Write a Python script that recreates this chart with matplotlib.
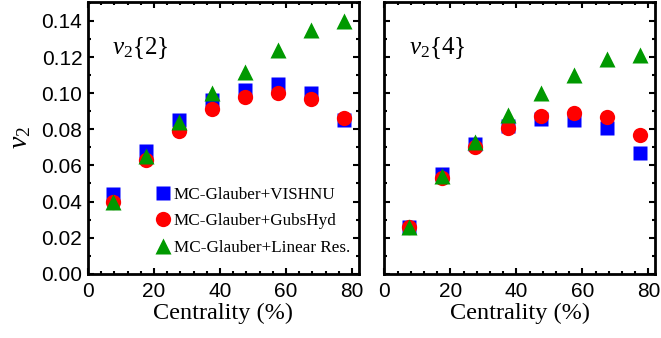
import matplotlib
matplotlib.use("Agg")
import matplotlib.pyplot as plt
from matplotlib.ticker import MultipleLocator

plt.rcParams['font.family'] = 'sans-serif'
plt.rcParams['font.sans-serif'] = ['Liberation Sans']
plt.rcParams['mathtext.fontset'] = 'custom'
plt.rcParams['mathtext.rm'] = 'Liberation Serif'
plt.rcParams['mathtext.it'] = 'Liberation Serif:italic'

# centrality bins (midpoints)
centrality = [7.5, 17.5, 27.5, 37.5, 47.5, 57.5, 67.5, 77.5]

# v2{2}
v22_vishnu = [0.044, 0.068, 0.085, 0.096, 0.102, 0.105, 0.100, 0.085]
v22_gubser = [0.040, 0.063, 0.079, 0.091, 0.098, 0.100, 0.097, 0.086]
v22_linres = [0.040, 0.065, 0.084, 0.100, 0.112, 0.124, 0.135, 0.140]

# v2{4}
v24_vishnu = [0.026, 0.055, 0.072, 0.082, 0.0855, 0.085, 0.081, 0.067]
v24_gubser = [0.026, 0.053, 0.070, 0.081, 0.0875, 0.089, 0.087, 0.077]
v24_linres = [0.026, 0.054, 0.073, 0.088, 0.100, 0.110, 0.119, 0.121]

labels = ['MC-Glauber+VISHNU', 'MC-Glauber+GubsHyd', 'MC-Glauber+Linear Res.']

serif = 'Liberation Serif'

fig, axes = plt.subplots(1, 2, figsize=(6.61, 3.38), dpi=100, sharey=True)
fig.subplots_adjust(left=0.133, right=0.991, top=0.994, bottom=0.19, wspace=0.095)

panels = [(v22_vishnu, v22_gubser, v22_linres, r'$v_2\{2\}$'),
          (v24_vishnu, v24_gubser, v24_linres, r'$v_2\{4\}$')]

for ax, (a, b, c, tag) in zip(axes, panels):
    ax.plot(centrality, a, 's', color='#0000ff', ms=10.5, mec='none', label=labels[0])
    ax.plot(centrality, b, 'o', color='#ff0000', ms=11, mec='none', label=labels[1])
    ax.plot(centrality, c, '^', color='#009900', ms=11, mec='none', label=labels[2])
    ax.set_xlim(0, 82)
    ax.set_ylim(0, 0.1505)
    ax.xaxis.set_major_locator(MultipleLocator(20))
    ax.xaxis.set_minor_locator(MultipleLocator(4))
    ax.yaxis.set_major_locator(MultipleLocator(0.02))
    ax.yaxis.set_minor_locator(MultipleLocator(0.01))
    ax.tick_params(which='both', direction='in', top=True, right=True, width=1.5,
                   labelsize=15, pad=4)
    ax.tick_params(axis='x', pad=6)
    ax.tick_params(which='major', length=4)
    ax.tick_params(which='minor', length=2.5)
    for sp in ax.spines.values():
        sp.set_linewidth(2)
    ax.set_xlabel('Centrality (%)', fontfamily=serif, fontsize=17.5, labelpad=1)
    ax.text(0.09, 0.81, tag, transform=ax.transAxes, fontsize=18)

axes[0].yaxis.set_major_formatter(plt.FormatStrFormatter('%.2f'))
axes[0].set_ylabel(r'$v_2$', fontsize=20, labelpad=6)

axes[0].legend(loc='upper left', frameon=False, prop={'family': serif, 'size': 12.3},
               handletextpad=0.0, labelspacing=0.62, borderaxespad=0.0,
               handlelength=1.3, borderpad=0.0, bbox_to_anchor=(0.235, 0.32))

fig.savefig('out.png', dpi=100)
